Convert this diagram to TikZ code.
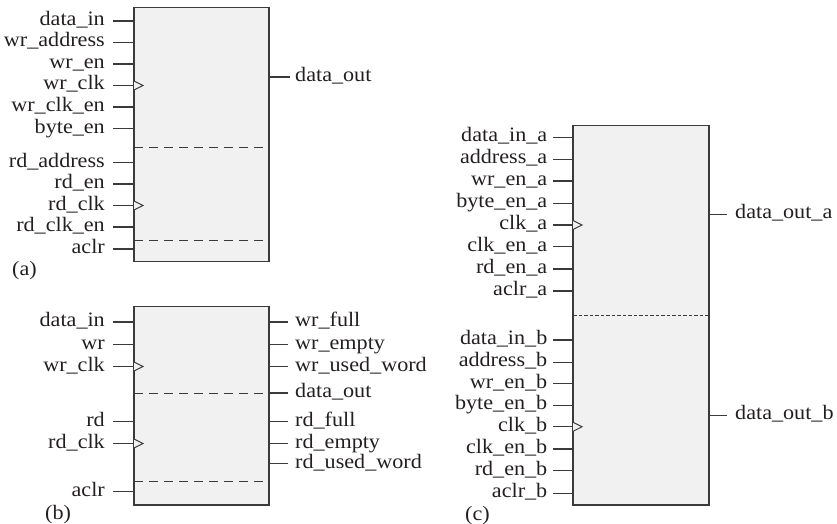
\documentclass[tikz,border=0pt]{standalone}
\usepackage{fontspec}
\setmainfont{Liberation Serif}[FakeStretch=1.08]
\definecolor{linec}{HTML}{3A3A3A}
\definecolor{boxfill}{HTML}{F1F1F2}
\definecolor{txt}{HTML}{231F20}
\tikzset{
  blk/.style={draw=linec, fill=boxfill, line width=1.2pt, inner sep=0pt, outer sep=0pt, anchor=north west},
  pin/.style={draw=linec, line width=1.2pt},
  clkmark/.style={draw=linec, fill=boxfill, line width=1pt, line join=miter},
  lbl/.style={text=txt, inner sep=0pt, font=\fontsize{20.5pt}{24pt}\selectfont},
  dividerwide/.style={draw=linec, line width=1pt, dash pattern=on 9pt off 6pt},
  dividerfine/.style={draw=linec, line width=1pt, dash pattern=on 3.5pt off 2pt},
}
\begin{document}
\begin{tikzpicture}[x=1pt, y=-1pt]
\useasboundingbox (0,0) rectangle (837,524);

% ---------- (a) simple dual-port RAM ----------
\node[blk, minimum width=135pt, minimum height=254pt] (A) at (134,7.5) {};
\draw[dividerwide] (A.west |- 0,147) -- (A.east |- 0,147);
\draw[dividerwide] (A.west |- 0,240) -- (A.east |- 0,240);
\foreach \y/\t [count=\i] in {21/data\_in, 42.5/wr\_address, 64/wr\_en, 85.5/wr\_clk,
    107/wr\_clk\_en, 128.5/byte\_en, 162.5/rd\_address, 184/rd\_en, 205.5/rd\_clk,
    227/rd\_clk\_en, 249/aclr} {
  \coordinate (A-in\i) at (113,\y);
  \draw[pin] (A-in\i) -- (A-in\i -| A.west);
  \node[lbl, anchor=base east] (A-in\i-t) at ([xshift=-8pt, yshift=-4.5pt]A-in\i) {\t};
}
\draw[clkmark] (A-in4 -| A.west) ++(0,4.5) -- ++(9,-4.5) -- ++(-9,-4.5);
\draw[clkmark] (A-in9 -| A.west) ++(0,4.5) -- ++(9,-4.5) -- ++(-9,-4.5);
\coordinate (A-out1) at (290,77);
\draw[pin] (A-out1 -| A.east) -- (A-out1);
\node[lbl, anchor=base west] (A-out1-t) at ([xshift=5pt, yshift=-4.5pt]A-out1) {data\_out};
\node[lbl, anchor=base west] (A-cap) at (12,275) {(a)};

% ---------- (b) dual-clock FIFO ----------
\node[blk, minimum width=135pt, minimum height=198.5pt] (B) at (134,306.5) {};
\draw[dividerwide] (B.west |- 0,393) -- (B.east |- 0,393);
\draw[dividerwide] (B.west |- 0,481.5) -- (B.east |- 0,481.5);
\foreach \y/\t [count=\i] in {322/data\_in, 344.5/wr, 366.5/wr\_clk, 421.5/rd,
    443.5/rd\_clk, 491.5/aclr} {
  \coordinate (B-in\i) at (113,\y);
  \draw[pin] (B-in\i) -- (B-in\i -| B.west);
  \node[lbl, anchor=base east] (B-in\i-t) at ([xshift=-8pt, yshift=-4.5pt]B-in\i) {\t};
}
\draw[clkmark] (B-in3 -| B.west) ++(0,4.5) -- ++(9,-4.5) -- ++(-9,-4.5);
\draw[clkmark] (B-in5 -| B.west) ++(0,4.5) -- ++(9,-4.5) -- ++(-9,-4.5);
\foreach \y/\t [count=\i] in {322/wr\_full, 344.5/wr\_empty, 366.5/wr\_used\_word,
    393/data\_out, 421.5/rd\_full, 443.5/rd\_empty, 463.5/rd\_used\_word} {
  \coordinate (B-out\i) at (288,\y);
  \draw[pin] (B-out\i -| B.east) -- (B-out\i);
  \node[lbl, anchor=base west] (B-out\i-t) at ([xshift=7pt, yshift=-4.5pt]B-out\i) {\t};
}
\node[lbl, anchor=base west] (B-cap) at (45,519.5) {(b)};

% ---------- (c) true dual-port RAM ----------
\node[blk, minimum width=136pt, minimum height=379.5pt] (C) at (573,125.5) {};
\draw[dividerfine] (C.west |- 0,315.7) -- (C.east |- 0,315.7);
\foreach \y/\t [count=\i] in {137.3/data\_in\_a, 159.3/address\_a, 181/wr\_en\_a,
    203.3/byte\_en\_a, 225/clk\_a, 246.8/clk\_en\_a, 269/rd\_en\_a, 291/aclr\_a,
    340/data\_in\_b, 362.2/address\_b, 383.5/wr\_en\_b, 405.2/byte\_en\_b,
    426.8/clk\_b, 449/clk\_en\_b, 470.8/rd\_en\_b, 493.3/aclr\_b} {
  \coordinate (C-in\i) at (553,\y);
  \draw[pin] (C-in\i) -- (C-in\i -| C.west);
  \node[lbl, anchor=base east] (C-in\i-t) at ([xshift=-5.5pt, yshift=-4.5pt]C-in\i) {\t};
}
\draw[clkmark] (C-in5 -| C.west) ++(0,4.5) -- ++(9,-4.5) -- ++(-9,-4.5);
\draw[clkmark] (C-in13 -| C.west) ++(0,4.5) -- ++(9,-4.5) -- ++(-9,-4.5);
\foreach \y/\t [count=\i] in {214.3/data\_out\_a, 415.3/data\_out\_b} {
  \coordinate (C-out\i) at (727,\y);
  \draw[pin] (C-out\i -| C.east) -- (C-out\i);
  \node[lbl, anchor=base west] (C-out\i-t) at ([xshift=8pt, yshift=-4.5pt]C-out\i) {\t};
}
\node[lbl, anchor=base west] (C-cap) at (465,520.5) {(c)};
\end{tikzpicture}
\end{document}
